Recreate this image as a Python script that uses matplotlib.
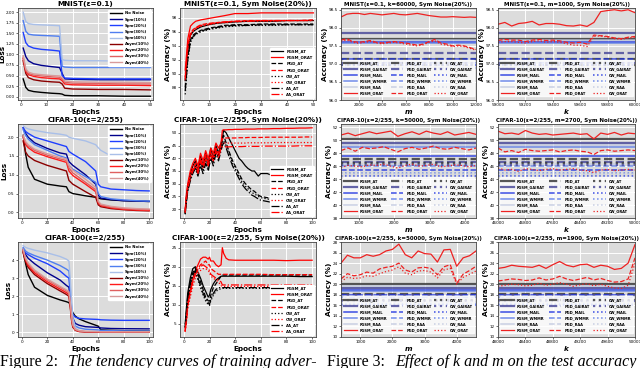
import matplotlib
matplotlib.use("Agg")
import matplotlib.pyplot as plt

BG = "#dcdcdc"
NOISE_COL = {"No Noise": "#000000", "Sym(10%)": "#00008b", "Sym(20%)": "#1f3fff",
             "Sym(30%)": "#4f7ef0", "Sym(40%)": "#a9bfe8", "Asym(10%)": "#8b0000",
             "Asym(20%)": "#ff1a1a", "Asym(30%)": "#e06060", "Asym(40%)": "#d89a9a"}
ATK_LS = {"FGSM": "-", "PGD": "--", "CW": ":", "AA": "-."}
METH_COL = {"AT": "#3a3a3a", "GAIRAT": "#4b4b9b", "MAIL": "#1a2fe0",
            "WMMR": "#5b7be8", "RAA": "#c0c8e0", "ORAT": "#ee2222"}

# ---------------------------------------------------------------- loss curves (fig 2, col 1)
mn_ep = [1, 2, 3, 5, 8, 12, 15, 16, 17, 20, 30, 40, 50]
mn_loss = {
    "No Noise": [0.42, 0.22, 0.15, 0.12, 0.10, 0.08, 0.07, 0.06, 0.03, 0.02, 0.02, 0.01, 0.01],
    "Sym(10%)": [1.15, 0.95, 0.85, 0.78, 0.74, 0.71, 0.69, 0.55, 0.42, 0.41, 0.40, 0.40, 0.40],
    "Sym(20%)": [1.52, 1.28, 1.20, 1.15, 1.12, 1.10, 1.08, 0.50, 0.44, 0.43, 0.42, 0.42, 0.42],
    "Sym(30%)": [1.80, 1.55, 1.48, 1.46, 1.45, 1.44, 1.43, 0.72, 0.70, 0.69, 0.69, 0.69, 0.69],
    "Sym(40%)": [2.00, 1.78, 1.73, 1.71, 1.70, 1.69, 1.68, 0.88, 0.86, 0.85, 0.85, 0.84, 0.84],
    "Asym(10%)": [0.85, 0.55, 0.45, 0.40, 0.37, 0.35, 0.34, 0.30, 0.20, 0.18, 0.17, 0.17, 0.16],
    "Asym(20%)": [0.90, 0.60, 0.52, 0.48, 0.45, 0.43, 0.42, 0.38, 0.30, 0.28, 0.27, 0.27, 0.26],
    "Asym(30%)": [0.93, 0.63, 0.55, 0.51, 0.49, 0.47, 0.46, 0.42, 0.34, 0.32, 0.31, 0.30, 0.30],
    "Asym(40%)": [0.97, 0.66, 0.58, 0.54, 0.52, 0.50, 0.49, 0.45, 0.37, 0.35, 0.34, 0.34, 0.33],
}
c10_ep = [1, 3, 5, 10, 20, 30, 35, 37, 40, 50, 58, 60, 62, 70, 80, 90, 100]
c10_loss = {
    "No Noise": [2.05, 1.55, 1.20, 0.88, 0.75, 0.70, 0.68, 0.55, 0.50, 0.44, 0.40, 0.38, 0.36, 0.33, 0.31, 0.30, 0.29],
    "Sym(10%)": [2.25, 2.10, 2.00, 1.85, 1.70, 1.58, 1.55, 1.35, 1.25, 1.00, 0.75, 0.45, 0.38, 0.34, 0.31, 0.30, 0.29],
    "Sym(20%)": [2.25, 2.15, 2.10, 2.00, 1.90, 1.80, 1.75, 1.62, 1.55, 1.35, 1.10, 0.75, 0.68, 0.62, 0.60, 0.58, 0.57],
    "Sym(30%)": [2.20, 2.05, 1.95, 1.80, 1.65, 1.50, 1.45, 1.25, 1.15, 0.95, 0.80, 0.50, 0.42, 0.36, 0.33, 0.31, 0.30],
    "Sym(40%)": [2.30, 2.25, 2.22, 2.18, 2.12, 2.08, 2.05, 2.00, 1.97, 1.90, 1.80, 1.72, 1.65, 1.50, 1.35, 1.22, 1.12],
    "Asym(10%)": [1.90, 1.60, 1.50, 1.38, 1.25, 1.15, 1.10, 0.85, 0.75, 0.55, 0.40, 0.20, 0.15, 0.10, 0.07, 0.05, 0.04],
    "Asym(20%)": [2.00, 1.80, 1.72, 1.60, 1.48, 1.38, 1.33, 1.10, 0.98, 0.75, 0.55, 0.25, 0.18, 0.12, 0.08, 0.06, 0.05],
    "Asym(30%)": [2.02, 1.85, 1.77, 1.65, 1.52, 1.42, 1.38, 1.18, 1.05, 0.80, 0.60, 0.28, 0.20, 0.14, 0.10, 0.08, 0.07],
    "Asym(40%)": [2.05, 1.88, 1.80, 1.68, 1.56, 1.46, 1.42, 1.25, 1.12, 0.88, 0.66, 0.30, 0.22, 0.16, 0.12, 0.10, 0.09],
}
c100_ep = [1, 3, 5, 10, 20, 30, 35, 37, 38, 39, 40, 42, 45, 50, 60, 62, 70, 80, 100]
c100_loss = {
    "No Noise": [4.5, 3.8, 3.2, 2.5, 2.05, 1.80, 1.70, 1.65, 1.50, 1.30, 1.10, 0.90, 0.75, 0.60, 0.35, 0.15, 0.12, 0.10, 0.08],
    "Sym(10%)": [4.6, 4.3, 4.1, 3.8, 3.3, 2.9, 2.6, 2.5, 1.8, 1.2, 0.8, 0.5, 0.40, 0.32, 0.28, 0.25, 0.22, 0.21, 0.20],
    "Sym(20%)": [4.6, 4.4, 4.3, 4.1, 3.8, 3.4, 3.1, 3.0, 2.2, 1.4, 1.0, 0.85, 0.78, 0.75, 0.72, 0.70, 0.68, 0.67, 0.67],
    "Sym(30%)": [4.7, 4.5, 4.4, 4.25, 4.0, 3.7, 3.5, 3.4, 2.5, 1.5, 0.8, 0.35, 0.25, 0.18, 0.14, 0.12, 0.10, 0.09, 0.08],
    "Sym(40%)": [4.8, 4.7, 4.65, 4.55, 4.40, 4.20, 4.05, 3.95, 3.0, 1.8, 0.8, 0.25, 0.08, 0.04, 0.03, 0.02, 0.02, 0.02, 0.02],
    "Asym(10%)": [4.4, 3.9, 3.6, 3.2, 2.7, 2.3, 2.1, 2.0, 1.4, 0.7, 0.3, 0.12, 0.05, 0.03, 0.02, 0.02, 0.02, 0.02, 0.02],
    "Asym(20%)": [4.5, 4.0, 3.7, 3.3, 2.8, 2.4, 2.2, 2.1, 1.5, 0.8, 0.35, 0.14, 0.06, 0.04, 0.03, 0.02, 0.02, 0.02, 0.02],
    "Asym(30%)": [4.55, 4.05, 3.8, 3.4, 2.9, 2.5, 2.3, 2.2, 1.6, 0.9, 0.4, 0.16, 0.08, 0.05, 0.04, 0.03, 0.03, 0.03, 0.03],
    "Asym(40%)": [4.6, 4.1, 3.85, 3.45, 2.95, 2.55, 2.35, 2.25, 1.7, 1.0, 0.45, 0.18, 0.10, 0.06, 0.05, 0.04, 0.04, 0.04, 0.04],
}

# ---------------------------------------------------------------- accuracy curves (fig 2, col 2)
mna_ep = [1, 2, 3, 4, 5, 7, 10, 13, 16, 20, 25, 30, 35, 40, 45, 50]
mn_acc = {
    "FGSM_AT":   [89.0, 93.5, 95.5, 96.0, 96.3, 96.7, 97.0, 97.2, 97.3, 97.4, 97.5, 97.5, 97.5, 97.6, 97.6, 97.6],
    "FGSM_ORAT": [90.5, 95.0, 96.8, 97.2, 97.5, 97.7, 97.9, 98.1, 98.3, 98.6, 98.6, 98.7, 98.7, 98.7, 98.7, 98.7],
    "PGD_AT":    [88.0, 92.5, 94.8, 95.5, 95.8, 96.2, 96.5, 96.7, 96.9, 97.0, 97.0, 97.1, 97.1, 97.1, 97.1, 97.1],
    "PGD_ORAT":  [89.5, 94.0, 95.8, 96.3, 96.6, 97.0, 97.2, 97.3, 97.4, 97.5, 97.6, 97.6, 97.6, 97.6, 97.6, 97.7],
    "CW_AT":     [87.0, 92.0, 94.5, 95.2, 95.6, 96.0, 96.3, 96.5, 96.7, 96.8, 96.9, 96.9, 96.9, 97.0, 97.0, 97.0],
    "CW_ORAT":   [89.0, 93.8, 95.5, 96.0, 96.4, 96.8, 97.0, 97.2, 97.3, 97.4, 97.5, 97.5, 97.5, 97.6, 97.6, 97.6],
    "AA_AT":     [87.5, 92.2, 94.6, 95.3, 95.7, 96.1, 96.4, 96.6, 96.8, 96.9, 96.9, 97.0, 97.0, 97.0, 97.0, 97.0],
    "AA_ORAT":   [89.2, 94.0, 95.7, 96.2, 96.5, 96.9, 97.1, 97.3, 97.4, 97.5, 97.5, 97.6, 97.6, 97.6, 97.6, 97.6],
}
c10a_ep = [1, 2, 3, 5, 7, 9, 11, 13, 15, 17, 19, 21, 23, 25, 27, 29, 30, 31, 33, 35, 38, 40, 43, 45,
           48, 50, 53, 55, 58, 60, 65, 70, 75, 80, 85, 90, 95, 100]
c10_acc = {
    "FGSM_AT":   [19, 25, 28, 34, 37, 39, 35, 41, 37, 42, 38, 44, 40, 45, 42, 46, 48, 51, 50, 48, 45, 43, 40, 39,
                  37, 36, 35, 35, 33, 34, 34, 33, 33, 33, 32, 32, 32, 32],
    "FGSM_ORAT": [20, 26, 30, 35, 38, 40, 37, 42, 39, 43, 40, 44, 42, 46, 44, 46, 51, 51.2, 51.2, 51.3, 51.3, 51.4,
                  51.4, 51.4, 51.5, 51.5, 51.5, 51.5, 51.6, 51.6, 51.6, 51.7, 51.7, 51.8, 51.8, 51.9, 51.9, 52.0],
    "PGD_AT":    [18, 23, 28, 32, 35, 37, 34, 39, 36, 40, 37, 42, 39, 43, 41, 45, 47, 49, 46, 43, 39, 37, 34, 32,
                  30, 29, 27.5, 27, 25.5, 25, 24.5, 24, 23.5, 23.5, 23, 23, 22.5, 22.5],
    "PGD_ORAT":  [19, 24, 29, 33, 36, 38, 35, 40, 37, 41, 38, 43, 40, 44, 42, 45, 47.5, 48, 48, 48, 48, 48, 48.1,
                  48.1, 48.1, 48.2, 48.2, 48.2, 48.2, 48.2, 48.3, 48.3, 48.3, 48.3, 48.3, 48.3, 48.4, 48.4],
    "CW_AT":     [18.5, 24, 27, 33, 35, 36, 33, 38, 35, 39, 36, 41, 38, 43, 40, 44, 46, 47, 45, 42, 38, 36, 33, 31,
                  29, 28, 26.5, 26, 25, 24.5, 24, 23.5, 23, 23, 22.5, 22.5, 22, 22],
    "CW_ORAT":   [19, 25, 28, 34, 36, 38, 35, 40, 37, 42, 38, 42, 40, 44, 41, 45, 46, 46, 46, 46, 46, 46, 46, 46,
                  46, 46.1, 46.1, 46.1, 46.1, 46.1, 46.1, 46.2, 46.2, 46.2, 46.2, 46.2, 46.2, 46.2],
    "AA_AT":     [18, 23, 27, 31, 34, 36, 33, 37, 34, 38, 35, 40, 37, 42, 39, 43, 45, 46, 44, 41, 37, 35, 32, 30,
                  28, 27, 25.5, 25, 24, 23.5, 23, 22.5, 22.5, 22, 22, 22, 21.8, 21.8],
    "AA_ORAT":   [18.5, 24, 28, 32, 35, 37, 34, 39, 36, 40, 37, 41, 39, 43, 40, 44, 44.5, 44.5, 44.5, 44.5, 44.6,
                  44.6, 44.6, 44.6, 44.7, 44.7, 44.7, 44.7, 44.7, 44.8, 44.8, 44.8, 44.8, 44.8, 44.8, 44.9, 44.9, 44.9],
}
c100a_ep = [1, 2, 3, 5, 7, 9, 11, 13, 15, 17, 19, 20, 21, 23, 25, 27, 29, 30, 31, 33, 35, 40, 50, 60, 70, 80, 90, 100]
c100_acc = {
    "FGSM_AT":   [5, 9, 13, 17, 19.5, 20, 18.5, 17, 15, 13.5, 12, 12.5, 14, 15.5, 16.5, 17, 17.5, 17.5, 17.5,
                  17.5, 17.5, 17.5, 17.5, 17.5, 17.5, 17.5, 17.4, 17.4],
    "FGSM_ORAT": [3, 6, 10, 14, 17, 19, 20.5, 22, 22.5, 22.5, 22, 22.5, 21.5, 21.5, 20.5, 20, 20.5, 25, 23.5,
                  22.2, 21.8, 21.7, 21.7, 21.7, 21.7, 21.6, 21.7, 21.7],
    "PGD_AT":    [4, 8, 12, 16, 18.5, 19.5, 18, 16, 14, 12, 11, 11, 12.5, 14.5, 15.5, 16.5, 17.5, 17.8, 17.8,
                  17.8, 17.8, 17.8, 17.8, 17.8, 17.8, 17.8, 17.8, 17.8],
    "PGD_ORAT":  [3, 6, 9.5, 13, 16, 18, 19.5, 20.5, 21, 21.5, 20.5, 20.5, 19.5, 19, 18.5, 18, 18, 18, 18, 18,
                  18, 18, 18, 18, 17.9, 17.9, 17.9, 17.9],
    "CW_AT":     [4, 7, 11, 15, 17.5, 18.5, 16.5, 14.5, 12.5, 11, 10, 9.8, 11, 12.5, 13.5, 14, 14.2, 14.3, 14.3,
                  14.3, 14.3, 14.3, 14.3, 14.3, 14.3, 14.3, 14.3, 14.3],
    "CW_ORAT":   [3, 5.5, 9, 12, 15, 17, 18, 19, 19.5, 19.5, 19, 18.5, 17.5, 17, 16.5, 16, 15, 14.8, 14.8, 14.8,
                  14.8, 14.8, 14.8, 14.8, 14.8, 14.8, 14.8, 14.8],
    "AA_AT":     [4, 7.5, 11.5, 15.5, 18, 19, 17, 15, 13, 11.5, 10.5, 10, 11.5, 13, 14, 14.5, 14.5, 14.5, 14.5,
                  14.5, 14.5, 14.5, 14.5, 14.5, 14.5, 14.5, 14.5, 14.5],
    "AA_ORAT":   [3.5, 6.5, 10, 13.5, 16, 18, 19, 20, 20.5, 20, 19.5, 19, 18, 17.5, 17, 16.5, 16, 15.2, 15.2,
                  15.2, 15.2, 15.2, 15.2, 15.2, 15.2, 15.2, 15.2, 15.2],
}

# ---------------------------------------------------------------- effect of k and m (fig 3)
METHODS = ["AT", "GAIRAT", "MAIL", "WMMR", "RAA"]
# baseline accuracies per attack: [AT, GAIRAT, MAIL, WMMR, RAA]
r1_base = {"FGSM": [97.69, 97.86, 97.60, 97.58, 97.66],
           "PGD":  [97.13, 97.30, 97.13, 97.02, 97.00],
           "CW":   [96.97, 97.02, 96.97, 96.88, 96.90]}
r1c3_m = list(range(500, 12001, 500))
r1c3_orat = {
    "FGSM": [98.30, 98.38, 98.40, 98.40, 98.37, 98.40, 98.38, 98.36, 98.38, 98.40, 98.37, 98.36,
             98.38, 98.40, 98.37, 98.34, 98.32, 98.30, 98.30, 98.31, 98.30, 98.29, 98.30, 98.29],
    "PGD":  [97.66, 97.70, 97.62, 97.60, 97.62, 97.65, 97.60, 97.58, 97.60, 97.62, 97.60, 97.58,
             97.55, 97.52, 97.55, 97.62, 97.68, 97.58, 97.55, 97.50, 97.52, 97.50, 97.45, 97.40],
    "CW":   [97.63, 97.66, 97.60, 97.57, 97.60, 97.62, 97.58, 97.56, 97.58, 97.60, 97.58, 97.55,
             97.52, 97.50, 97.53, 97.60, 97.64, 97.55, 97.52, 97.48, 97.50, 97.48, 97.43, 97.38],
}
r1c4_k = list(range(59000, 60001, 50))
r1c4_orat = {
    "FGSM": [98.10, 98.15, 98.05, 98.12, 98.14, 98.18, 98.08, 98.12, 98.12, 98.10, 98.06, 98.05,
             98.08, 98.04, 98.15, 98.45, 98.48, 98.50, 98.47, 98.50, 98.42],
    "PGD":  [97.65, 97.68, 97.66, 97.66, 97.62, 97.66, 97.68, 97.65, 97.66, 97.64, 97.60, 97.58,
             97.60, 97.55, 97.80, 97.78, 97.76, 97.72, 97.70, 97.74, 97.76],
    "CW":   [97.60, 97.62, 97.62, 97.60, 97.58, 97.62, 97.64, 97.60, 97.62, 97.60, 97.56, 97.52,
             97.52, 97.48, 97.76, 97.78, 97.74, 97.70, 97.68, 97.72, 97.74],
}
r2_base = {"FGSM": [50.2, 49.5, 47.6, 49.0, 49.3],
           "PGD":  [47.1, 46.6, 45.4, 46.0, 46.4],
           "CW":   [46.5, 46.2, 44.5, 45.0, 44.8]}
r2c3_m = list(range(500, 4301, 200))
r2c3_orat = {
    "FGSM": [50.8, 51.1, 50.7, 51.0, 51.3, 51.0, 51.2, 51.4, 50.6, 51.0, 51.3, 50.9, 51.4, 51.1,
             50.9, 51.3, 50.8, 51.0, 51.2, 50.9],
    "PGD":  [48.4, 48.8, 48.3, 48.9, 48.7, 48.8, 49.0, 48.6, 48.2, 48.7, 48.9, 48.6, 48.8, 49.1,
             48.7, 48.6, 48.9, 48.7, 48.5, 48.8],
    "CW":   [45.8, 46.1, 46.0, 45.9, 46.2, 46.1, 46.3, 46.0, 45.7, 46.1, 46.3, 46.0, 46.1, 46.3,
             45.9, 46.0, 46.2, 46.1, 45.9, 46.1],
}
r2c4_k = list(range(46000, 50001, 200))
r2c4_orat = {
    "FGSM": [51.4, 51.0, 51.1, 50.9, 51.5, 51.1, 50.9, 51.0, 50.8, 50.9, 51.0, 51.1, 50.9, 51.0,
             50.2, 51.1, 50.9, 51.2, 50.8, 51.1, 51.0],
    "PGD":  [48.8, 48.2, 48.4, 48.1, 48.6, 48.4, 48.3, 48.4, 48.5, 48.2, 48.4, 48.5, 48.3, 48.2,
             47.8, 48.4, 48.5, 48.3, 48.4, 48.5, 48.4],
    "CW":   [45.7, 45.4, 45.5, 45.2, 45.6, 45.5, 45.3, 45.5, 45.6, 45.4, 45.5, 45.6, 45.4, 45.3,
             45.0, 45.4, 45.5, 45.3, 45.4, 45.5, 45.4],
}
r3_base = {"FGSM": [20.0, 19.3, 19.0, 18.8, 19.6],
           "PGD":  [18.2, 18.0, 17.9, 17.6, 17.8],
           "CW":   [17.1, 16.9, 16.0, 16.3, 16.6]}
r3c3_m = list(range(400, 4601, 200))
r3c3_orat = {
    "FGSM": [24.0, 25.5, 25.0, 25.0, 25.6, 25.3, 25.6, 26.3, 26.6, 27.6, 25.6, 25.0, 26.3, 25.8,
             25.7, 24.2, 26.5, 26.6, 23.4, 25.0, 25.4, 26.3],
    "PGD":  [21.0, 22.0, 21.6, 21.8, 22.3, 22.1, 22.9, 23.2, 23.4, 24.0, 22.7, 22.3, 23.1, 23.2,
             23.0, 21.8, 23.3, 23.7, 20.2, 21.9, 22.6, 23.4],
    "CW":   [20.5, 21.3, 21.1, 21.2, 21.6, 21.5, 22.0, 22.4, 22.7, 23.3, 22.1, 21.8, 22.5, 22.6,
             22.3, 21.2, 22.7, 23.0, 20.0, 21.3, 21.9, 22.5],
}
r3c4_k = list(range(48000, 50001, 100))
r3c4_orat = {
    "FGSM": [23.0, 23.2, 23.6, 23.4, 23.3, 23.2, 23.6, 23.0, 23.7, 24.3, 23.6, 23.3, 23.7, 23.8,
             23.2, 23.6, 23.4, 22.8, 23.0, 24.0, 27.5],
    "PGD":  [20.6, 20.8, 21.0, 20.9, 20.7, 20.8, 21.2, 20.8, 21.0, 21.5, 21.0, 20.7, 21.0, 21.3,
             20.8, 21.1, 20.7, 20.4, 20.5, 21.0, 25.0],
    "CW":   [19.6, 19.8, 20.0, 19.9, 19.7, 19.8, 20.2, 19.8, 20.0, 20.3, 20.0, 19.6, 19.9, 20.1,
             19.7, 20.0, 19.6, 19.3, 19.2, 19.8, 24.0],
}

fig = plt.figure(figsize=(6.4, 3.68), dpi=100)
W, H = 640, 368


def panel(l, t, r, b):
    ax = fig.add_axes([l / W, 1 - b / H, (r - l) / W, (b - t) / H])
    ax.set_facecolor(BG)
    ax.grid(True, color="white", lw=0.7)
    ax.set_axisbelow(True)
    for s in ax.spines.values():
        s.set_color("#444444"); s.set_linewidth(0.6)
    ax.tick_params(labelsize=3, length=1.5, width=0.4, pad=1)
    return ax


COLS = [(18, 153), (180, 316), (341, 476), (498, 635)]
ROWS = [(8, 100), (124, 218), (242, 337)]
LFS = 5.2

# column 1: loss
loss_sets = [("MNIST(ε=0.1)", mn_ep, mn_loss, (-0.08, 2.1), [0, 0.25, 0.5, 0.75, 1.0, 1.25, 1.5, 1.75, 2.0], (-1, 51), range(0, 51, 10)),
             ("CIFAR-10(ε=2/255)", c10_ep, c10_loss, (-0.15, 2.35), [0, 0.5, 1.0, 1.5, 2.0], (-3, 103), range(0, 101, 20)),
             ("CIFAR-100(ε=2/255)", c100_ep, c100_loss, (-0.25, 5.0), [0, 1, 2, 3, 4], (-3, 103), range(0, 101, 20))]
for (t, b), (title, ep, data, yl, yt, xl, xt) in zip(ROWS, loss_sets):
    ax = panel(COLS[0][0], t, COLS[0][1], b)
    for name, vals in data.items():
        ax.plot(ep, vals, color=NOISE_COL[name], lw=1.0, label=name)
    ax.set_ylim(*yl); ax.set_yticks(yt); ax.set_xlim(*xl); ax.set_xticks(list(xt))
    ax.set_title(title, fontsize=5.2, fontweight="bold", pad=1.5)
    ax.set_xlabel("Epochs", fontsize=LFS, fontweight="bold", labelpad=1)
    ax.set_ylabel("Loss", fontsize=LFS, fontweight="bold", labelpad=0.3)
    ax.legend(loc="upper right", handlelength=3, labelspacing=0.55,
              framealpha=1, edgecolor="white", borderpad=0.4, prop={"size": 2.8, "weight": "bold"})

# column 2: accuracy per epoch
acc_sets = [("MNIST(ε=0.1, Sym Noise(20%))", mna_ep, mn_acc, (86.2, 99.4), [88, 90, 92, 94, 96, 98], (-1, 51), range(0, 51, 10)),
            ("CIFAR-10(ε=2/255, Sym Noise(20%))", c10a_ep, c10_acc, (16.5, 53.5), [20, 25, 30, 35, 40, 45, 50], (-3, 103), range(0, 101, 20)),
            ("CIFAR-100(ε=2/255, Sym Noise(20%))", c100a_ep, c100_acc, (1.5, 26.5), [5, 10, 15, 20, 25], (-3, 103), range(0, 101, 20))]
for (t, b), (title, ep, data, yl, yt, xl, xt) in zip(ROWS, acc_sets):
    ax = panel(COLS[1][0], t, COLS[1][1], b)
    for name, vals in data.items():
        atk, meth = name.split("_")
        ax.plot(ep, vals, color="red" if meth == "ORAT" else "black", ls=ATK_LS[atk], lw=0.9, label=name)
    ax.set_ylim(*yl); ax.set_yticks(yt); ax.set_xlim(*xl); ax.set_xticks(list(xt))
    ax.set_title(title, fontsize=5.2, fontweight="bold", pad=1.5)
    ax.set_xlabel("Epochs", fontsize=LFS, fontweight="bold", labelpad=1)
    ax.set_ylabel("Accuracy (%)", fontsize=LFS, fontweight="bold", labelpad=0.5)
    ax.legend(loc="lower right", handlelength=3, labelspacing=0.55, framealpha=1,
              edgecolor="white", borderpad=0.4, prop={"size": 2.8, "weight": "bold"})

# columns 3-4: effect of m and k
km_sets = [
    (0, 2, "MNIST(ε=0.1, k=60000, Sym Noise(20%))", "m", r1c3_m, r1_base, r1c3_orat, (96.0, 98.55), [96.0, 96.5, 97.0, 97.5, 98.0, 98.5], [2000, 4000, 6000, 8000, 10000, 12000], 0.36),
    (0, 3, "MNIST(ε=0.1, m=1000, Sym Noise(20%))", "k", r1c4_k, r1_base, r1c4_orat, (96.0, 98.55), [96.0, 96.5, 97.0, 97.5, 98.0, 98.5], [59000, 59200, 59400, 59600, 59800, 60000], 0.36),
    (1, 2, "CIFAR-10(ε=2/255, k=50000, Sym Noise(20%))", "m", r2c3_m, r2_base, r2c3_orat, (38.0, 52.5), [38, 40, 42, 44, 46, 48, 50, 52], [1000, 2000, 3000, 4000], 0.41),
    (1, 3, "CIFAR-10(ε=2/255, m=2700, Sym Noise(20%))", "k", r2c4_k, r2_base, r2c4_orat, (38.0, 52.5), [38, 40, 42, 44, 46, 48, 50, 52], [46000, 46800, 47600, 48400, 49200, 50000], 0.41),
    (2, 2, "CIFAR-100(ε=2/255, k=50000, Sym Noise(20%))", "m", r3c3_m, r3_base, r3c3_orat, (10.0, 28.0), [10, 12, 14, 16, 18, 20, 22, 24, 26, 28], [1000, 2000, 3000, 4000], 0.39),
    (2, 3, "CIFAR-100(ε=2/255, m=1900, Sym Noise(20%))", "k", r3c4_k, r3_base, r3c4_orat, (10.0, 28.0), [10, 12, 14, 16, 18, 20, 22, 24, 26, 28], [48000, 48400, 48800, 49200, 49600, 50000], 0.39),
]
for ri, ci, title, xlab, xs, base, orat, yl, yt, xt, lh in km_sets:
    t, b = ROWS[ri]
    ax = panel(COLS[ci][0], t, COLS[ci][1], b)
    for atk in ["FGSM", "PGD", "CW"]:
        for meth, v in zip(METHODS, base[atk]):
            lw = 1.6 if meth in ("AT", "GAIRAT") else 1.1
            ax.plot([xs[0], xs[-1]], [v, v], color=METH_COL[meth], ls=ATK_LS[atk], lw=lw,
                    alpha=0.85, label=f"{atk}_{meth}")
        ax.plot(xs, orat[atk], color=METH_COL["ORAT"], ls=ATK_LS[atk], lw=0.9, label=f"{atk}_ORAT")
    ax.set_xlim(xs[0], xs[-1]); ax.set_ylim(*yl); ax.set_yticks(yt); ax.set_xticks(xt)
    ax.set_title(title, fontsize=4.0, fontweight="bold", pad=1.5)
    ax.set_xlabel(xlab, fontsize=LFS, fontweight="bold", style="italic", labelpad=1)
    ax.set_ylabel("Accuracy (%)", fontsize=LFS, fontweight="bold", labelpad=0.5)
    ax.legend(loc="lower center", ncol=3, mode="expand", bbox_to_anchor=(0.0, 0.02, 1.0, lh),
              handlelength=3.5, labelspacing=0.55, framealpha=0.8, edgecolor="white",
              borderpad=0.4, prop={"size": 2.6, "weight": "bold"})

# captions
CAP = dict(fontsize=11.5, family="Liberation Serif", va="baseline")
yb = 2 / H
fig.text(0 / W, yb, "Figure 2:", **CAP)
fig.text(68 / W, yb, "The tendency curves of training adver-", style="italic", **CAP)
fig.text(327 / W, yb, "Figure 3:", **CAP)
fig.text(395 / W, yb, "Effect of k and m on the test accuracy", style="italic", **CAP)

fig.savefig("out.png", dpi=100)
